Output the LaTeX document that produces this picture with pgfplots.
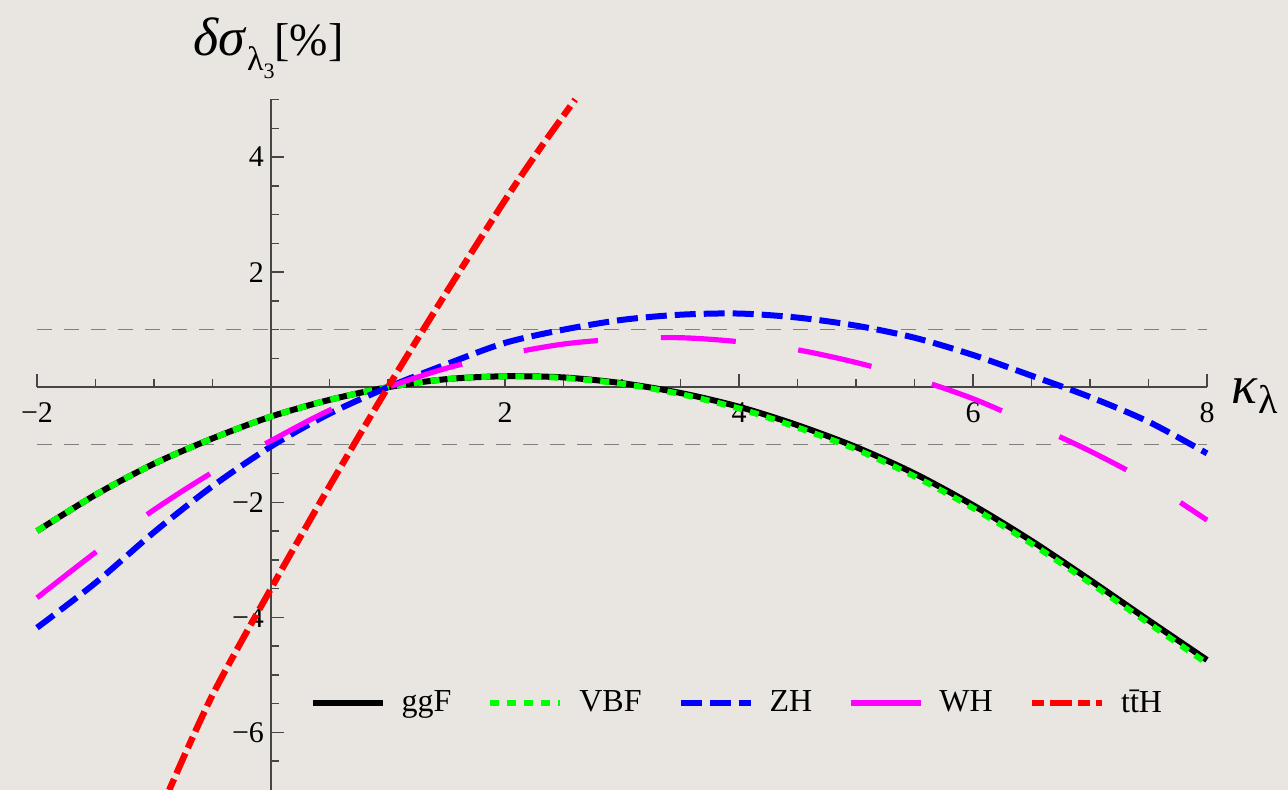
\documentclass[border=0pt]{standalone}
\usepackage{fontspec}
\setmainfont{Liberation Serif}
\usepackage{pgfplots}
\pgfplotsset{compat=1.18}
\definecolor{bg}{RGB}{233,230,225}
\definecolor{axcol}{RGB}{70,70,70}
\definecolor{vbfgreen}{RGB}{0,255,0}
\definecolor{zhblue}{RGB}{0,0,255}
\definecolor{whmag}{RGB}{255,0,255}
\definecolor{ttred}{RGB}{255,0,0}
\definecolor{gridgray}{RGB}{128,128,128}
\begin{document}
\begin{tikzpicture}
\fill[bg] (0,0) rectangle (644pt,395pt);
\useasboundingbox (0,0) rectangle (644pt,395pt);
\begin{axis}[
  at={(18.5pt,0pt)}, anchor=south west,
  scale only axis, width=585pt, height=345.25pt,
  xmin=-2, xmax=8, ymin=-7, ymax=5,
  axis lines=middle,
  axis line style={-, axcol, line width=0.75pt},
  every tick/.style={axcol, line width=0.75pt},
  tick align=inside,
  major tick length=6.5pt, minor tick length=4pt,
  xtick={-2,2,4,6,8}, xticklabels={−2,2,4,6,8},
  ytick={-6,-4,-2,2,4}, yticklabels={−6,−4,−2,2,4},
  minor xtick={-1.5,-1,-0.5,0.5,1,1.5,2.5,3,3.5,4.5,5,5.5,6.5,7,7.5},
  minor ytick={-6.5,-5.5,-5,-4.5,-3.5,-3,-2.5,-1.5,-1,-0.5,0.5,1,1.5,2.5,3,3.5,4.5,5},
  tick label style={font=\fontsize{15}{15}\selectfont},
  every x tick label/.append style={yshift=-4pt},
  clip=false,
  legend columns=5,
  legend style={at={(rel axis cs:0.599,0.126)}, anchor=center, draw=none, fill=none,
    font=\fontsize{16}{16}\selectfont,
    /tikz/every odd column/.append style={column sep=6pt},
    /tikz/every even column/.append style={column sep=16pt}},
  legend image code/.code={\draw[#1] (0pt,0pt) -- (35pt,0pt);},
]
\addplot[gridgray, line width=0.75pt, dash pattern=on 7.5pt off 6pt, forget plot] coordinates {(-2,1) (8,1)};
\addplot[gridgray, line width=0.75pt, dash pattern=on 7.5pt off 6pt, forget plot] coordinates {(-2,-1) (8,-1)};
% ggF
\addplot[black, line width=3pt, smooth] coordinates {
(-2,-2.50) (-1.5,-1.87) (-1,-1.33) (-0.5,-0.89) (0,-0.51) (0.5,-0.22) (1,0) (1.5,0.14) (2,0.19) (2.5,0.17) (3,0.07) (3.5,-0.10) (4,-0.34) (4.5,-0.66) (5,-1.04) (5.5,-1.50) (6,-2.05) (6.5,-2.67) (7,-3.35) (7.5,-4.05) (8,-4.74)};
\addlegendentry{ggF}
% VBF
\addplot[vbfgreen, line width=3pt, smooth, dash pattern=on 4.5pt off 4pt] coordinates {
(-2,-2.50) (-1.5,-1.87) (-1,-1.33) (-0.5,-0.89) (0,-0.51) (0.5,-0.22) (1,0) (1.5,0.14) (2,0.19) (2.5,0.16) (3,0.06) (3.5,-0.12) (4,-0.37) (4.5,-0.70) (5,-1.08) (5.5,-1.55) (6,-2.10) (6.5,-2.72) (7,-3.40) (7.5,-4.10) (8,-4.80)};
\addlegendentry{VBF}
% ZH
\addplot[zhblue, line width=3pt, smooth, dash pattern=on 10.5pt off 4pt] coordinates {
(-2,-4.18) (-1.5,-3.40) (-1,-2.52) (-0.5,-1.72) (0,-1.03) (0.5,-0.46) (1,0) (1.5,0.40) (2,0.77) (2.5,1.00) (3,1.17) (3.5,1.26) (4,1.28) (4.5,1.21) (5,1.07) (5.5,0.86) (6,0.56) (6.5,0.20) (7,-0.17) (7.5,-0.60) (8,-1.15)};
\addlegendentry{ZH}
% WH
\addplot[whmag, line width=2.6pt, smooth, dash pattern=on 37.5pt off 31.5pt] coordinates {
(-2,-3.66) (-1.5,-2.87) (-1,-2.13) (-0.5,-1.48) (0,-0.93) (0.5,-0.40) (1,0) (1.5,0.33) (2,0.57) (2.5,0.75) (3,0.84) (3.5,0.86) (4,0.79) (4.5,0.65) (5,0.43) (5.5,0.15) (6,-0.20) (6.5,-0.64) (7,-1.11) (7.5,-1.65) (8,-2.31)};
\addlegendentry{WH}
% ttH
\addplot[ttred, line width=3.2pt, smooth, dash pattern=on 6pt off 3pt on 11pt off 3pt] coordinates {
(-0.87,-7.0) (-0.5,-5.35) (0,-3.5) (0.5,-1.72) (1,0) (1.5,1.65) (2,3.25) (2.3,4.15) (2.6,5.0)};
\addlegendentry{t\={t}H}
\node[anchor=base, inner sep=0pt] at (axis cs:-0.02,5.77) {\fontsize{27}{27}\selectfont\textit{δσ}\raisebox{-0.28em}{\fontsize{17}{17}\selectfont λ\raisebox{-0.25em}{\fontsize{11}{11}\selectfont 3}}\fontsize{23}{23}\selectfont[\%]};
\node[anchor=base west, inner sep=0pt] at (axis cs:8.21,-0.28) {\fontsize{27}{27}\selectfont\textit{κ}\raisebox{-5pt}{\fontsize{20}{20}\selectfont λ}};
\end{axis}
\end{tikzpicture}
\end{document}
